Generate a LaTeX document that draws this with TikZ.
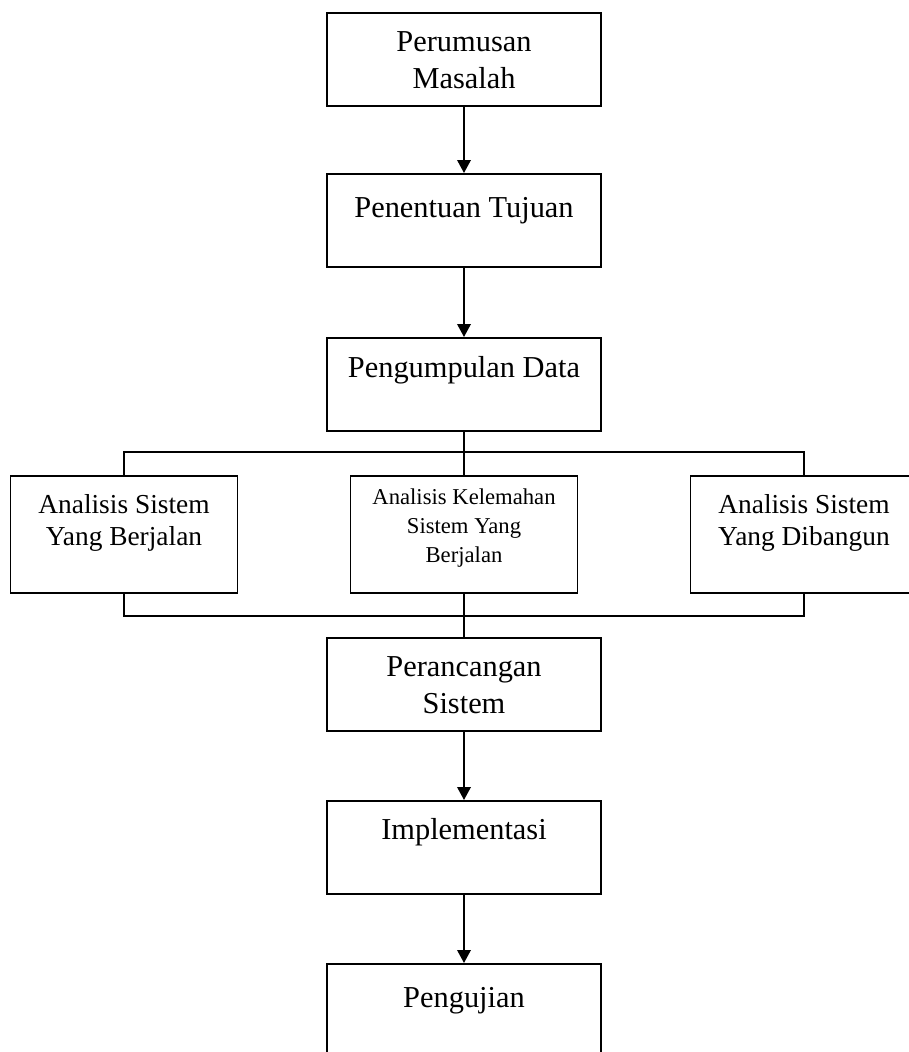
\documentclass[tikz,border=0pt]{standalone}
\usepackage{fontspec}
\setmainfont{Liberation Serif}
\usetikzlibrary{arrows.meta}

\tikzset{
  mainbox/.style 2 args={draw, line width=1.1pt, inner sep=0pt, anchor=north,
    minimum width=5.48cm, align=center, text height=#1, text depth=#2,
    font=\fontsize{17.3}{21.6}\selectfont},
  sidebox/.style 2 args={draw, line width=1.1pt, inner sep=0pt, anchor=north,
    minimum width=4.54cm, align=center, text height=#1, text depth=#2,
    font=\fontsize{15.6}{18.7}\selectfont},
  flow/.style={line width=1.1pt, -{Triangle[length=0.26cm,width=0.27cm]}},
  link/.style={line width=1.1pt},
}

\begin{document}
\begin{tikzpicture}[x=0.02cm,y=-0.02cm]
\useasboundingbox (0,0) rectangle (909,1052);
\clip (0,0) rectangle (909,1052);
% ---- main column, top part
\node[mainbox={1.52cm}{0.34cm}] (masalah) at (464,12) {Perumusan\\Masalah};
\node[mainbox={0.88cm}{0.98cm}] (tujuan) at (464,173) {Penentuan Tujuan};
\node[mainbox={0.80cm}{1.06cm}] (data) at (464,337) {Pengumpulan Data};
\draw[flow] (masalah.south) -- (tujuan.north);
\draw[flow] (tujuan.south) -- (data.north);
% ---- three analysis boxes
\node[sidebox={1.40cm}{0.94cm}] (berjalan) at (124,475) {Analisis Sistem\\Yang Berjalan};
\node[sidebox={1.74cm}{0.60cm},font=\fontsize{12.9}{16.7}\selectfont] (lemah) at (464,475) {Analisis Kelemahan\\Sistem Yang\\Berjalan};
\node[sidebox={1.40cm}{0.94cm}] (dibangun) at (804,475) {Analisis Sistem\\Yang Dibangun};
\coordinate (topbus) at (464,452);
\coordinate (botbus) at (464,616);
\draw[link] (data.south) -- (lemah.north);
\draw[link] (berjalan.north) |- (topbus) -| (dibangun.north);
\draw[link] (berjalan.south) |- (botbus) -| (dibangun.south);
% ---- main column, bottom part
\node[mainbox={1.52cm}{0.34cm}] (rancang) at (464,637) {Perancangan\\Sistem};
\node[mainbox={0.78cm}{1.08cm}] (implement) at (464,800) {Implementasi};
\node[mainbox={0.88cm}{0.98cm}] (uji) at (464,963) {Pengujian};
\draw[link] (lemah.south) -- (rancang.north);
\draw[flow] (rancang.south) -- (implement.north);
\draw[flow] (implement.south) -- (uji.north);
\end{tikzpicture}
\end{document}
